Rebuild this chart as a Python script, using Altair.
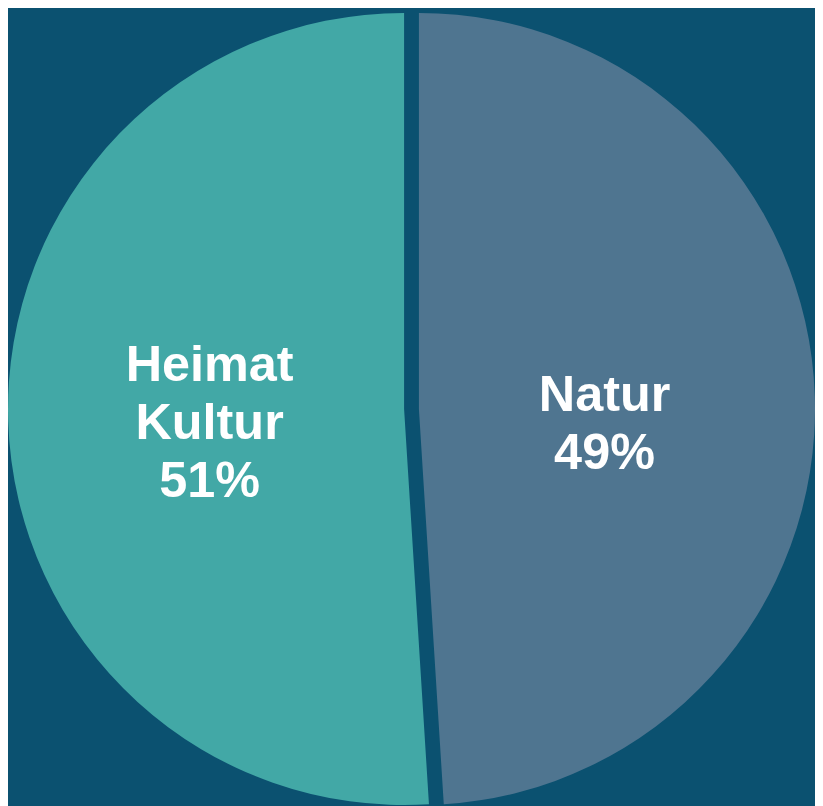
import altair as alt
import pandas as pd

# Data
categories = ["Natur", "Heimat Kultur"]
shares = [49, 51]
slice_colors = ["#4f7590", "#42a8a6"]

labels = ["\n".join(c.split() + [f"{v}%"]) for c, v in zip(categories, shares)]

df = pd.DataFrame({
    "category": categories,
    "share": shares,
    "order": list(range(len(categories))),
    "label": labels,
})

BG = "#0b5170"
CY = 395
R = 401

# per-slice layout (style): exploded center x, label radius, label dy
layout = {
    "Natur": dict(cx=412, lr=188, dy=-7),
    "Heimat Kultur": dict(cx=397, lr=197, dy=-50),
}

base = alt.Chart(df).encode(
    theta=alt.Theta("share:Q", stack=True),
    order=alt.Order("order:Q"),
)

layers = []
for cat in categories:
    lay = layout[cat]
    show = alt.condition(alt.datum.category == cat, alt.value(1), alt.value(0))
    arc = base.mark_arc(radius=R, strokeWidth=0).encode(
        x=alt.value(lay["cx"]),
        y=alt.value(CY),
        color=alt.Color("category:N",
                        scale=alt.Scale(domain=categories, range=slice_colors),
                        legend=None),
        opacity=show,
    )
    txt = base.mark_text(
        radius=lay["lr"], dy=lay["dy"], fontSize=51, fontWeight="bold",
        font="Liberation Sans", color="white", lineBreak="\n", lineHeight=59,
        align="center", baseline="middle",
    ).encode(
        x=alt.value(lay["cx"]),
        y=alt.value(CY),
        text="label:N",
        opacity=show,
    )
    layers += [arc, txt]

chart = alt.layer(*layers).properties(
    width=807, height=790, padding=0, background=BG,
).configure_view(stroke=None)

chart.save("out.html", embed_options={"renderer": "svg", "actions": False})
